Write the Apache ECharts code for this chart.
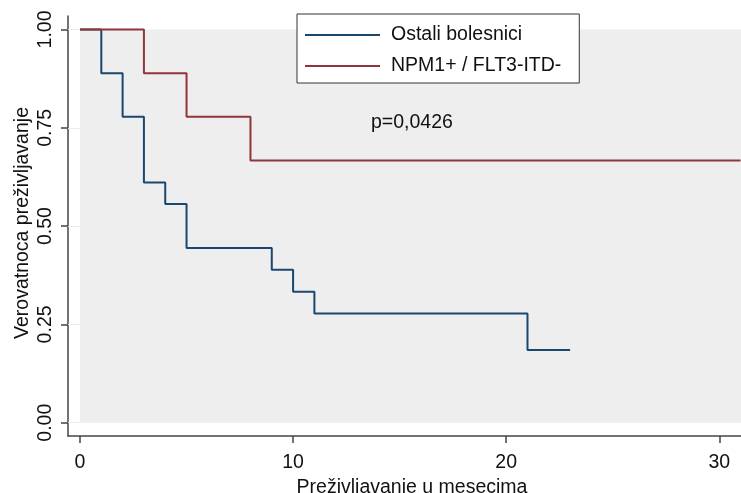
<!DOCTYPE html>
<html>
<head>
<meta charset="utf-8">
<script src="https://cdn.jsdelivr.net/npm/echarts@6/dist/echarts.min.js"></script>
<style>
html,body{margin:0;padding:0;background:#fff;}
#chart{width:741px;height:493px;}
</style>
</head>
<body>
<div id="chart"></div>
<script>
// Kaplan-Meier survival data
const seriesNames = ["Ostali bolesnici", "NPM1+ / FLT3-ITD-"];
const blueTimes = [0, 1, 2, 3, 4, 5, 9, 10, 11, 21, 23];
const blueSurv  = [1, 0.889, 0.778, 0.611, 0.556, 0.444, 0.389, 0.333, 0.278, 0.185, 0.185];
const redTimes  = [0, 3, 5, 8, 31];
const redSurv   = [1, 0.889, 0.778, 0.667, 0.667];
const xTicks = [0, 10, 20, 30];
const yTicks = [0, 0.25, 0.5, 0.75, 1];
const pText = "p=0,0426";

const X_MIN = -0.563, X_MAX = 31.02;
const Y_MIN = -0.0338, Y_MAX = 1.0343;
const FONT = "'Liberation Sans', Arial, sans-serif";

const chart = echarts.init(document.getElementById('chart'), null, {renderer: 'canvas'});

const zip = (a, b) => a.map((v, i) => [v, b[i]]);

chart.setOption({
  animation: false,
  backgroundColor: '#ffffff',
  grid: {left: 68, top: 16, right: 0, bottom: 57, containLabel: false, outerBoundsMode: 'none'},
  xAxis: {
    type: 'value', min: X_MIN, max: X_MAX,
    name: 'Preživljavanje u mesecima', nameLocation: 'middle', nameGap: 31,
    nameTextStyle: {fontFamily: FONT, fontSize: 19.5, color: '#111', padding: [0, 0, 0, 15]},
    axisLine: {show: true, onZero: false, lineStyle: {color: '#444', width: 1.5}},
    axisTick: {show: true, length: 7, customValues: xTicks, lineStyle: {color: '#444', width: 1.5}},
    axisLabel: {show: true, customValues: xTicks, margin: 17, fontFamily: FONT, fontSize: 19.5, color: '#111'},
    splitLine: {show: false}
  },
  yAxis: {
    type: 'value', min: Y_MIN, max: Y_MAX,
    name: 'Verovatnoca preživljavanje', nameLocation: 'middle', nameGap: 35, nameRotate: 90,
    nameMoveOverlap: false,
    nameTextStyle: {fontFamily: FONT, fontSize: 19.5, color: '#111', padding: [0, 0, 0, 6]},
    axisLine: {show: true, onZero: false, lineStyle: {color: '#444', width: 1.5}},
    axisTick: {show: true, length: 7, customValues: yTicks, lineStyle: {color: '#444', width: 1.5}},
    axisLabel: {show: true, customValues: yTicks, rotate: 90, margin: 12, fontFamily: FONT, fontSize: 19.5, color: '#111',
      formatter: v => v.toFixed(2)},
    splitLine: {show: false}
  },
  legend: {
    left: 297, top: 14, orient: 'vertical',
    backgroundColor: '#fff', borderColor: '#333', borderWidth: 1,
    padding: [11, 18, 7, 8], itemGap: 11,
    itemWidth: 75, itemHeight: 2, icon: 'rect',
    textStyle: {fontFamily: FONT, fontSize: 19.5, color: '#111', lineHeight: 20, padding: [0, 0, 0, 6]},
    data: seriesNames
  },
  graphic: [{
    type: 'text', left: 371, top: 113, z: 10,
    style: {text: pText, font: "19.5px 'Liberation Sans', Arial, sans-serif", fill: '#111'}
  }],
  series: [
    {
      name: 'bg', type: 'line', data: [], silent: true, z: 0,
      markArea: {silent: true, itemStyle: {color: '#eeeeee'},
        data: [[{coord: [0, 0]}, {coord: [X_MAX, 1]}]]},
      markLine: {silent: true, symbol: 'none', label: {show: false},
        lineStyle: {color: '#e6eef1', width: 1, type: 'solid'},
        data: yTicks.map(v => [{coord: [X_MIN, v]}, {coord: [0, v]}])}
    },
    {
      name: seriesNames[0], type: 'line', step: 'end', showSymbol: false, symbol: 'none',
      data: zip(blueTimes, blueSurv), z: 3,
      lineStyle: {color: '#1a476f', width: 2}, itemStyle: {color: '#1a476f'}
    },
    {
      name: seriesNames[1], type: 'line', step: 'end', showSymbol: false, symbol: 'none',
      data: zip(redTimes, redSurv), z: 4,
      lineStyle: {color: '#90353b', width: 2}, itemStyle: {color: '#90353b'}
    }
  ]
});
</script>
</body>
</html>
